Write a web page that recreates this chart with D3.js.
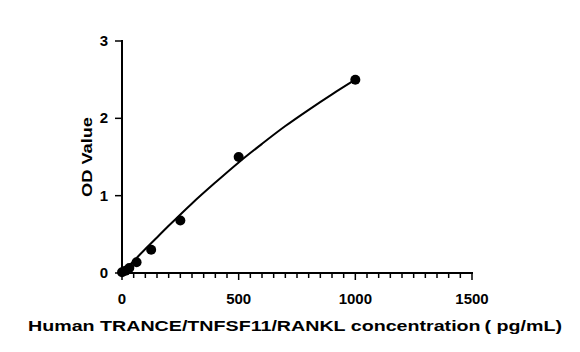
<!DOCTYPE html>
<html><head><meta charset="utf-8">
<script src="https://cdn.jsdelivr.net/npm/d3@7"></script>
<style>body{margin:0;background:#fff}svg{display:block}</style>
</head><body>
<svg id="c" width="580" height="352"></svg>
<script>
const concentrations = [0, 15.6, 31.25, 62.5, 125, 250, 500, 1000];
const odValues = [0.01, 0.03, 0.065, 0.14, 0.30, 0.68, 1.50, 2.50];
const curveX = [0, 50, 100, 150, 200, 300, 400, 500, 600, 700, 800, 900, 1000];
const curveY = [0.0, 0.155, 0.31, 0.46, 0.61, 0.9, 1.17, 1.43, 1.67, 1.90, 2.11, 2.31, 2.50];
const xTicks = [0, 500, 1000, 1500];
const yTicks = [0, 1, 2, 3];
const xTitle = "Human TRANCE/TNFSF11/RANKL concentration\u2009( pg/mL)";
const yTitle = "OD Value";

const svg = d3.select("#c");
const x = d3.scaleLinear().domain([0, 1500]).range([122, 472]);
const y = d3.scaleLinear().domain([0, 3]).range([273, 41]);
const font = "'Liberation Sans', Arial, sans-serif";

// x axis
const xa = svg.append("g").attr("transform", "translate(0,273)");
xa.append("line").attr("x1", x(0) - 1).attr("x2", x(1500) + 1).attr("stroke", "#000").attr("stroke-width", 2);
xa.selectAll("line.minor").data(d3.range(0, 1501, 50)).enter().append("line")
  .attr("x1", d => x(d)).attr("x2", d => x(d)).attr("y1", 0)
  .attr("y2", d => d % 500 === 0 ? 7 : 5).attr("stroke", "#000").attr("stroke-width", 1.5);
xa.selectAll("text").data(xTicks).enter().append("text")
  .attr("x", d => x(d)).attr("y", 31).attr("text-anchor", "middle")
  .attr("font-family", font).attr("font-weight", "bold").attr("font-size", 15).text(d => d);

// y axis
const ya = svg.append("g");
ya.append("line").attr("x1", x(0)).attr("x2", x(0)).attr("y1", y(0) + 1).attr("y2", y(3) - 1).attr("stroke", "#000").attr("stroke-width", 2);
ya.selectAll("line.t").data(yTicks).enter().append("line")
  .attr("x1", x(0) - 7).attr("x2", x(0)).attr("y1", d => y(d)).attr("y2", d => y(d))
  .attr("stroke", "#000").attr("stroke-width", 1.5);
ya.selectAll("text").data(yTicks).enter().append("text")
  .attr("x", x(0) - 14).attr("y", d => y(d) + 5).attr("text-anchor", "end")
  .attr("font-family", font).attr("font-weight", "bold").attr("font-size", 15).text(d => d);

// titles
svg.append("text").attr("transform", "translate(92,157) rotate(-90)").attr("text-anchor", "middle")
  .attr("font-family", font).attr("font-weight", "bold").attr("font-size", 15).attr("fill", "#000")
  .attr("textLength", 80).attr("lengthAdjust", "spacingAndGlyphs").text(yTitle);
svg.append("text").attr("x", 295).attr("y", 331).attr("text-anchor", "middle")
  .attr("font-family", font).attr("font-weight", "bold").attr("font-size", 15)
  .attr("textLength", 534).attr("lengthAdjust", "spacingAndGlyphs").text(xTitle);

// curve
const line = d3.line().x(d => x(d[0])).y(d => y(d[1])).curve(d3.curveMonotoneX);
svg.append("path").datum(curveX.map((v, i) => [v, curveY[i]]))
  .attr("d", line).attr("fill", "none").attr("stroke", "#000").attr("stroke-width", 2);

// points
svg.selectAll("circle").data(concentrations.map((v, i) => [v, odValues[i]])).enter().append("circle")
  .attr("cx", d => x(d[0])).attr("cy", d => y(d[1])).attr("r", 5).attr("fill", "#000");
</script>
</body></html>
